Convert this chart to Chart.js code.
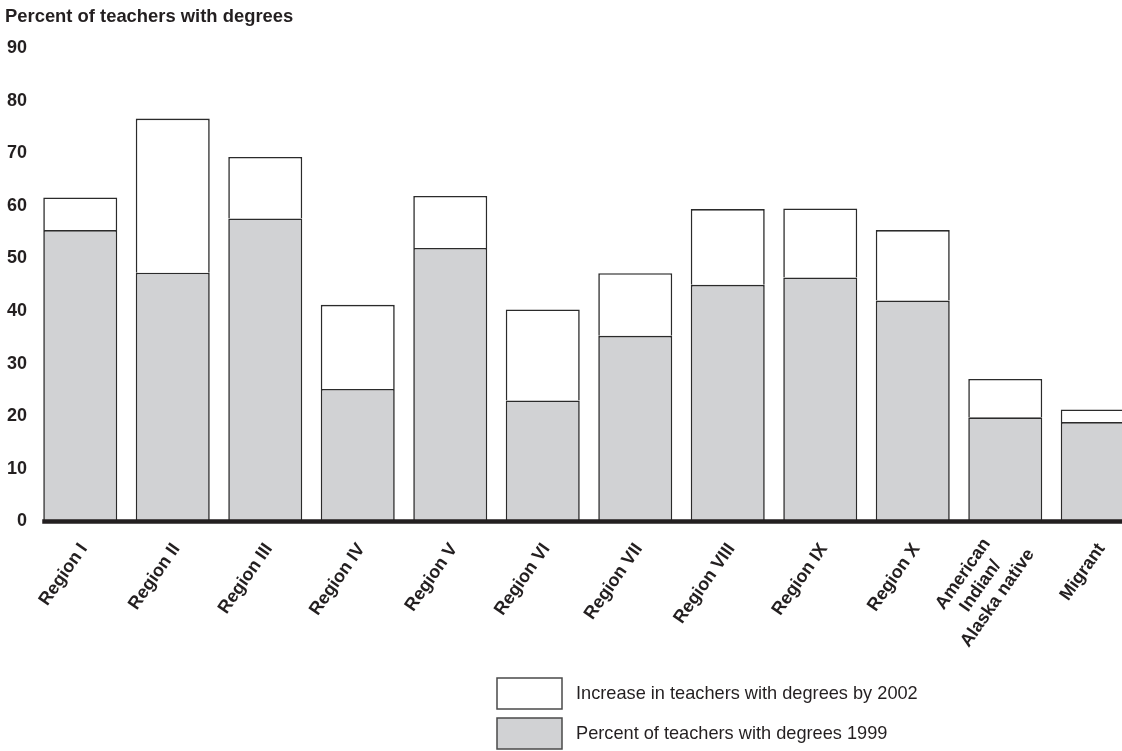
<!DOCTYPE html>
<html>
<head>
<meta charset="utf-8">
<script src="https://cdn.jsdelivr.net/npm/chart.js@4.4.1/dist/chart.umd.min.js"></script>
<style>
  html, body { margin: 0; padding: 0; background: #ffffff; overflow: hidden; }
  #wrap { position: relative; width: 1160px; height: 751px; }
</style>
</head>
<body>
<div id="wrap"><canvas id="c"></canvas></div>
<script>
const categories = ['Region I', 'Region II', 'Region III', 'Region IV', 'Region V', 'Region VI',
  'Region VII', 'Region VIII', 'Region IX', 'Region X', ['American', 'Indian/', 'Alaska native'], 'Migrant'];
const percent1999 = [55.4, 47.3, 57.6, 25.2, 52.0, 23.0, 35.3, 45.0, 46.4, 42.0, 19.8, 18.9];
const increaseBy2002 = [6.2, 29.3, 11.7, 16.0, 9.9, 17.3, 11.9, 14.4, 13.1, 13.4, 7.3, 2.4];
const yMin = 0, yMax = 90, yStep = 10;
const titleText = 'Percent of teachers with degrees';
const label1999 = 'Percent of teachers with degrees 1999';
const labelIncrease = 'Increase in teachers with degrees by 2002';

const FONT = '"Liberation Sans", Arial, Helvetica, sans-serif';
const INK = '#231f20';
const LABEL_ROT = 55 * Math.PI / 180;

const baselinePlugin = {
  id: 'baseline',
  afterDatasetsDraw(chart) {
    const ctx = chart.ctx;
    const meta = chart.getDatasetMeta(0);
    const first = meta.data[0];
    const y = chart.scales.y.getPixelForValue(0);
    ctx.save();
    ctx.strokeStyle = INK;
    ctx.lineWidth = 4.5;
    ctx.beginPath();
    ctx.moveTo(first.x - first.width / 2 - 1, y);
    ctx.lineTo(chart.width, y);
    ctx.stroke();
    ctx.restore();
  }
};

const xLabelPlugin = {
  id: 'xLabels',
  afterDraw(chart) {
    const ctx = chart.ctx;
    const xs = chart.scales.x;
    const labels = chart.data.labels;
    const ls = 21;
    ctx.save();
    ctx.fillStyle = INK;
    ctx.font = 'bold 18px ' + FONT;
    ctx.textBaseline = 'middle';
    labels.forEach((lab, i) => {
      const lines = Array.isArray(lab) ? lab : [lab];
      const px = xs.getPixelForTick(i) - 5;
      const py = chart.chartArea.bottom + 18;
      ctx.save();
      ctx.translate(px, py);
      ctx.rotate(-LABEL_ROT);
      if (lines.length === 1) {
        ctx.textAlign = 'right';
        ctx.fillText(lines[0], 0, ls / 2);
      } else {
        const widths = lines.map(l => ctx.measureText(l).width);
        const maxW = Math.max(...widths);
        const c = -0.43 * maxW;
        ctx.textAlign = 'center';
        const mid = (lines.length - 1) / 2;
        lines.forEach((l, k) => {
          ctx.fillText(l, c, ls / 2 + (k - mid) * ls);
        });
      }
      ctx.restore();
    });
    ctx.restore();
  }
};

const legendPlugin = {
  id: 'customLegend',
  afterDraw(chart) {
    const ctx = chart.ctx;
    const items = [chart.data.datasets[1], chart.data.datasets[0]];
    ctx.save();
    items.forEach((ds, i) => {
      const bx = 497, by = 678 + i * 40, bw = 65, bh = 31;
      ctx.fillStyle = ds.backgroundColor;
      ctx.fillRect(bx, by, bw, bh);
      ctx.strokeStyle = '#4a4a4a';
      ctx.lineWidth = 1.5;
      ctx.strokeRect(bx, by, bw, bh);
      ctx.fillStyle = INK;
      ctx.font = '18.2px ' + FONT;
      ctx.textBaseline = 'middle';
      ctx.textAlign = 'left';
      ctx.fillText(ds.label, 576, by + bh / 2);
    });
    ctx.restore();
  }
};

new Chart(document.getElementById('c'), {
  type: 'bar',
  data: {
    labels: categories,
    datasets: [
      {
        label: label1999,
        data: percent1999,
        backgroundColor: '#d1d2d4',
        borderColor: '#2b2b2b',
        borderWidth: 1.6,
        stack: 's'
      },
      {
        label: labelIncrease,
        data: increaseBy2002,
        backgroundColor: '#ffffff',
        borderColor: '#2b2b2b',
        borderWidth: 1.6,
        stack: 's'
      }
    ]
  },
  options: {
    responsive: true,
    maintainAspectRatio: false,
    animation: false,
    devicePixelRatio: 1,
    layout: { padding: { left: 5, right: 16, top: 0, bottom: 0 } },
    datasets: { bar: { barPercentage: 0.8, categoryPercentage: 1.0 } },
    plugins: {
      legend: { display: false },
      tooltip: { enabled: false },
      title: {
        display: true,
        text: titleText,
        align: 'start',
        color: INK,
        font: { family: FONT, size: 18.4, weight: 'bold' },
        padding: { top: 6, bottom: 20 }
      }
    },
    scales: {
      x: {
        stacked: true,
        grid: { display: false, drawTicks: false },
        border: { display: false },
        ticks: { display: false, autoSkip: false },
        afterFit(scale) { scale.height = 229.5; }
      },
      y: {
        stacked: true,
        min: yMin,
        max: yMax,
        grid: { display: false, drawTicks: false },
        border: { display: false },
        ticks: {
          stepSize: yStep,
          padding: 7,
          color: INK,
          font: { family: FONT, size: 18, weight: 'bold' }
        },
        afterFit(scale) { scale.width = 29; }
      }
    }
  },
  plugins: [baselinePlugin, xLabelPlugin, legendPlugin]
});
</script>
</body>
</html>
